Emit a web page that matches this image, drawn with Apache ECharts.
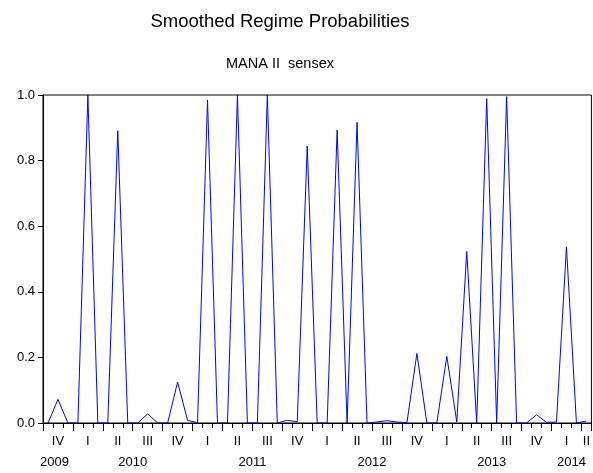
<!DOCTYPE html>
<html>
<head>
<meta charset="utf-8">
<script src="https://cdn.jsdelivr.net/npm/echarts@6/dist/echarts.min.js"></script>
<style>
  html, body { margin: 0; padding: 0; background: #fff; }
  #chart { width: 593px; height: 473px; }
</style>
</head>
<body>
<div id="chart"></div>
<script>
// monthly observations, Oct 2009 .. Apr 2014
var months = [
    '2009-10', '2009-11', '2009-12',
    '2010-01', '2010-02', '2010-03', '2010-04', '2010-05', '2010-06',
    '2010-07', '2010-08', '2010-09', '2010-10', '2010-11', '2010-12',
    '2011-01', '2011-02', '2011-03', '2011-04', '2011-05', '2011-06',
    '2011-07', '2011-08', '2011-09', '2011-10', '2011-11', '2011-12',
    '2012-01', '2012-02', '2012-03', '2012-04', '2012-05', '2012-06',
    '2012-07', '2012-08', '2012-09', '2012-10', '2012-11', '2012-12',
    '2013-01', '2013-02', '2013-03', '2013-04', '2013-05', '2013-06',
    '2013-07', '2013-08', '2013-09', '2013-10', '2013-11', '2013-12',
    '2014-01', '2014-02', '2014-03', '2014-04'
];

var probs = [
    0.000, 0.072, 0.000,
    0.000, 1.000, 0.000, 0.000, 0.891, 0.000,
    0.000, 0.028, 0.000, 0.000, 0.125, 0.008,
    0.001, 0.985, 0.000, 0.000, 1.000, 0.000,
    0.000, 1.000, 0.000, 0.008, 0.004, 0.844,
    0.000, 0.000, 0.893, 0.000, 0.917, 0.000,
    0.003, 0.007, 0.003, 0.001, 0.212, 0.000,
    0.000, 0.203, 0.003, 0.523, 0.000, 0.989,
    0.000, 0.995, 0.000, 0.000, 0.025, 0.002,
    0.003, 0.537, 0.000, 0.006
];

// quarter names, placed on the middle month of each quarter
var quarterLabels = {
    '2009-11': 'IV',
    '2010-02': 'I', '2010-05': 'II', '2010-08': 'III', '2010-11': 'IV',
    '2011-02': 'I', '2011-05': 'II', '2011-08': 'III', '2011-11': 'IV',
    '2012-02': 'I', '2012-05': 'II', '2012-08': 'III', '2012-11': 'IV',
    '2013-02': 'I', '2013-05': 'II', '2013-08': 'III', '2013-11': 'IV',
    '2014-02': 'I', '2014-04': 'II'
};

var yearLabels = {
    '2009-11': '2009',
    '2010-06': '2010',
    '2011-06': '2011',
    '2012-06': '2012',
    '2013-06': '2013',
    '2014-02': '2014'
};

var yTicks = [0, 0.2, 0.4, 0.6, 0.8, 1.0];

var dom = document.getElementById('chart');
var myChart = echarts.init(dom, null, { renderer: 'canvas' });

var font = 'Liberation Sans, Arial, sans-serif';

var option = {
    animation: false,
    backgroundColor: '#ffffff',
    title: [
        {
            text: 'Smoothed Regime Probabilities',
            left: 275,
            top: 7,
            textAlign: 'center',
            textStyle: { fontFamily: font, fontSize: 18.5, fontWeight: 'normal', color: '#000' }
        },
        {
            text: 'MANA II  sensex',
            left: 275,
            top: 51,
            textAlign: 'center',
            textStyle: { fontFamily: font, fontSize: 14.5, fontWeight: 'normal', color: '#000' }
        }
    ],
    grid: {
        left: 43,
        top: 95,
        width: 549,
        height: 328,
        show: true,
        borderColor: '#000',
        borderWidth: 1,
        backgroundColor: '#fff'
    },
    xAxis: [
        {
            type: 'category',
            position: 'bottom',
            data: months,
            boundaryGap: true,
            axisLine: { show: true, lineStyle: { color: '#000', width: 1 } },
            axisTick: { show: true, interval: 0, length: 5, lineStyle: { color: '#000' } },
            axisLabel: {
                interval: 0,
                margin: 12,
                fontFamily: font,
                fontSize: 13,
                color: '#000',
                formatter: function (v) { return quarterLabels[v] || ''; }
            },
            splitLine: { show: false }
        },
        {
            type: 'category',
            position: 'bottom',
            data: months,
            boundaryGap: true,
            axisLine: { show: false },
            axisTick: {
                show: true,
                length: 8,
                lineStyle: { color: '#000' },
                interval: function (i, v) {
                    var m = v.slice(5);
                    return m === '01' || m === '04' || m === '07' || m === '10';
                }
            },
            axisLabel: {
                interval: 0,
                margin: 33,
                fontFamily: font,
                fontSize: 13,
                color: '#000',
                formatter: function (v) {
                    var y = yearLabels[v];
                    if (!y) return '';
                    return y === '2009' ? '{l|' + y + '}' : '{r|' + y + '}';
                },
                rich: {
                    l: { fontFamily: font, fontSize: 13, color: '#000', padding: [0, 7, 0, 0] },
                    r: { fontFamily: font, fontSize: 13, color: '#000', padding: [0, 0, 0, 10] }
                }
            },
            splitLine: { show: false }
        }
    ],
    yAxis: {
        type: 'value',
        min: yTicks[0],
        max: yTicks[yTicks.length - 1],
        interval: 0.2,
        axisLine: { show: true, lineStyle: { color: '#000', width: 1 } },
        axisTick: { show: true, length: 5, lineStyle: { color: '#000' } },
        axisLabel: {
            margin: 8,
            fontFamily: font,
            fontSize: 13,
            color: '#000',
            formatter: function (v) { return v.toFixed(1); }
        },
        splitLine: { show: false }
    },
    series: [
        {
            type: 'line',
            data: probs,
            xAxisIndex: 0,
            showSymbol: false,
            symbol: 'none',
            lineStyle: { color: '#0000ff', width: 1 },
            itemStyle: { color: '#0000ff' }
        }
    ]
};

myChart.setOption(option);
</script>
</body>
</html>
